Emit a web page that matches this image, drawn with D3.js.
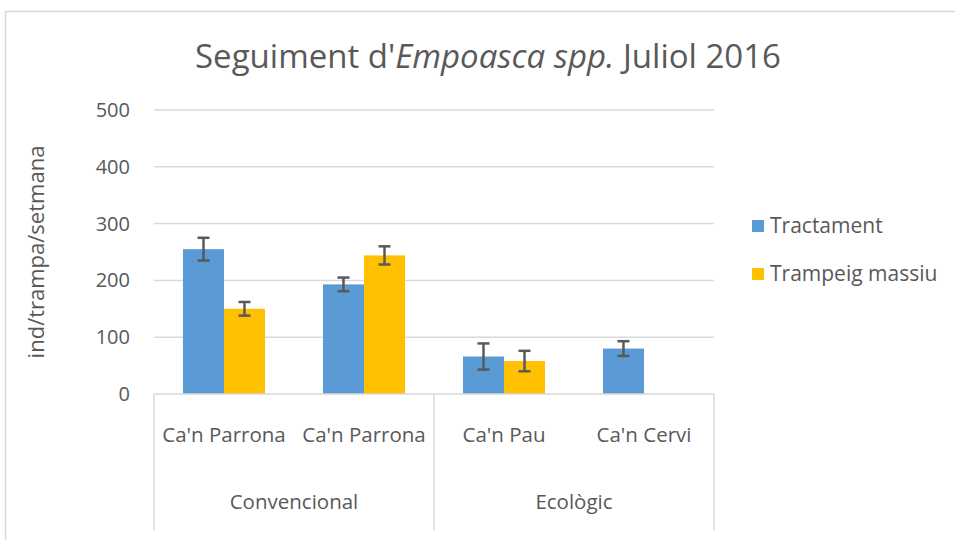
<!DOCTYPE html>
<html>
<head>
<meta charset="utf-8">
<script src="https://cdn.jsdelivr.net/npm/d3@7"></script>
<style>
  body { margin: 0; background: white; }
  text { font-family: "Open Sans", sans-serif; fill: #595959; }
</style>
</head>
<body>
<svg id="chart" width="955" height="540"></svg>
<script>
// chart data
const sites = ["Ca'n Parrona", "Ca'n Parrona", "Ca'n Pau", "Ca'n Cervi"];
const groups = ["Convencional", "Convencional", "Ecològic", "Ecològic"];
const seriesNames = ["Tractament", "Trampeig massiu"];
const tractament = [255, 193, 66, 80];
const tractamentErr = [20, 12, 23, 13];
const trampeig = [150, 244, 58, null];
const trampeigErr = [12, 16, 18, null];
const yTicks = [0, 100, 200, 300, 400, 500];

const colors = ["#5b9bd5", "#ffc000"];

const svg = d3.select("svg#chart");

// outer chart border (runs off the picture at right/bottom)
svg.append("rect")
  .attr("x", 5.5).attr("y", 11.5)
  .attr("width", 1000).attr("height", 600)
  .attr("fill", "none").attr("stroke", "#d9d9d9").attr("stroke-width", 1.5);

const plot = { left: 154, right: 714, top: 110, bottom: 394 };

const x = d3.scaleBand()
  .domain(d3.range(sites.length))
  .range([plot.left, plot.right])
  .paddingInner(0.414)
  .paddingOuter(0.207);

const xs = d3.scaleBand()
  .domain([0, 1])
  .range([0, x.bandwidth()]);

const y = d3.scaleLinear().domain([0, 500]).range([plot.bottom, plot.top]);

// gridlines
svg.append("g").selectAll("line")
  .data(yTicks.filter(d => d > 0))
  .join("line")
  .attr("x1", plot.left).attr("x2", plot.right)
  .attr("y1", d => y(d)).attr("y2", d => y(d))
  .attr("stroke", "#d9d9d9").attr("stroke-width", 1.5);

// y axis labels
svg.append("g").selectAll("text")
  .data(yTicks)
  .join("text")
  .attr("x", 130)
  .attr("y", d => y(d))
  .attr("dy", "0.35em")
  .attr("text-anchor", "end")
  .style("font-size", "20px")
  .text(d => d);

// y axis title
svg.append("text")
  .attr("transform", "translate(44," + ((plot.top + plot.bottom) / 2) + ") rotate(-90)")
  .attr("text-anchor", "middle")
  .style("font-size", "22px")
  .text("ind/trampa/setmana");

// bars
const series = [
  { values: tractament, errs: tractamentErr },
  { values: trampeig, errs: trampeigErr }
];

series.forEach(function(s, k) {
  const rows = s.values.map((v, i) => ({ i: i, v: v, e: s.errs[i] })).filter(d => d.v != null);
  const g = svg.append("g");
  g.selectAll("rect")
    .data(rows)
    .join("rect")
    .attr("x", d => x(d.i) + xs(k))
    .attr("width", xs.bandwidth())
    .attr("y", d => y(d.v))
    .attr("height", d => y(0) - y(d.v))
    .attr("fill", colors[k]);

  // error bars
  const eb = g.selectAll("g.err")
    .data(rows)
    .join("g")
    .attr("class", "err")
    .attr("stroke", "#595959")
    .attr("stroke-width", 2.5);
  const cx = d => x(d.i) + xs(k) + xs.bandwidth() / 2;
  eb.append("line")
    .attr("x1", cx).attr("x2", cx)
    .attr("y1", d => y(d.v + d.e)).attr("y2", d => y(d.v - d.e));
  eb.append("line")
    .attr("x1", d => cx(d) - 6).attr("x2", d => cx(d) + 6)
    .attr("y1", d => y(d.v + d.e)).attr("y2", d => y(d.v + d.e));
  eb.append("line")
    .attr("x1", d => cx(d) - 6).attr("x2", d => cx(d) + 6)
    .attr("y1", d => y(d.v - d.e)).attr("y2", d => y(d.v - d.e));
});

// category axis (baseline + group separators)
svg.append("line")
  .attr("x1", plot.left).attr("x2", plot.right)
  .attr("y1", plot.bottom).attr("y2", plot.bottom)
  .attr("stroke", "#d9d9d9").attr("stroke-width", 1.5);

const step = x.step();
const groupNames = Array.from(new Set(groups));
const groupBounds = groupNames.map(function(name) {
  const idx = groups.map((g, i) => g === name ? i : -1).filter(i => i >= 0);
  return {
    name: name,
    x0: plot.left + d3.min(idx) * step,
    x1: plot.left + (d3.max(idx) + 1) * step
  };
});
const sepX = [plot.left].concat(groupBounds.map(d => d.x1));

svg.append("g").selectAll("line")
  .data(sepX)
  .join("line")
  .attr("x1", d => d).attr("x2", d => d)
  .attr("y1", plot.bottom).attr("y2", 530)
  .attr("stroke", "#d9d9d9").attr("stroke-width", 1.5);

svg.append("g").selectAll("text")
  .data(sites)
  .join("text")
  .attr("x", (d, i) => plot.left + (i + 0.5) * step)
  .attr("y", 442)
  .attr("text-anchor", "middle")
  .style("font-size", "20.5px")
  .text(d => d);

svg.append("g").selectAll("text")
  .data(groupBounds)
  .join("text")
  .attr("x", d => (d.x0 + d.x1) / 2)
  .attr("y", 509)
  .attr("text-anchor", "middle")
  .style("font-size", "20.5px")
  .text(d => d.name);

// title
const title = svg.append("text")
  .attr("x", 488)
  .attr("y", 68)
  .attr("text-anchor", "middle")
  .style("font-size", "33px");
title.append("tspan").text("Seguiment d'");
title.append("tspan").style("font-style", "italic").text("Empoasca spp.");
title.append("tspan").text(" Juliol 2016");

// legend
const legend = svg.append("g").attr("transform", "translate(752,220)");
const items = legend.selectAll("g")
  .data(seriesNames)
  .join("g")
  .attr("transform", (d, i) => "translate(0," + (i * 48) + ")");
items.append("rect")
  .attr("width", 12).attr("height", 12)
  .attr("fill", (d, i) => colors[i]);
items.append("text")
  .attr("x", 18).attr("y", 6)
  .attr("dy", "0.35em")
  .style("font-size", "21px")
  .text(d => d);
</script>
</body>
</html>
